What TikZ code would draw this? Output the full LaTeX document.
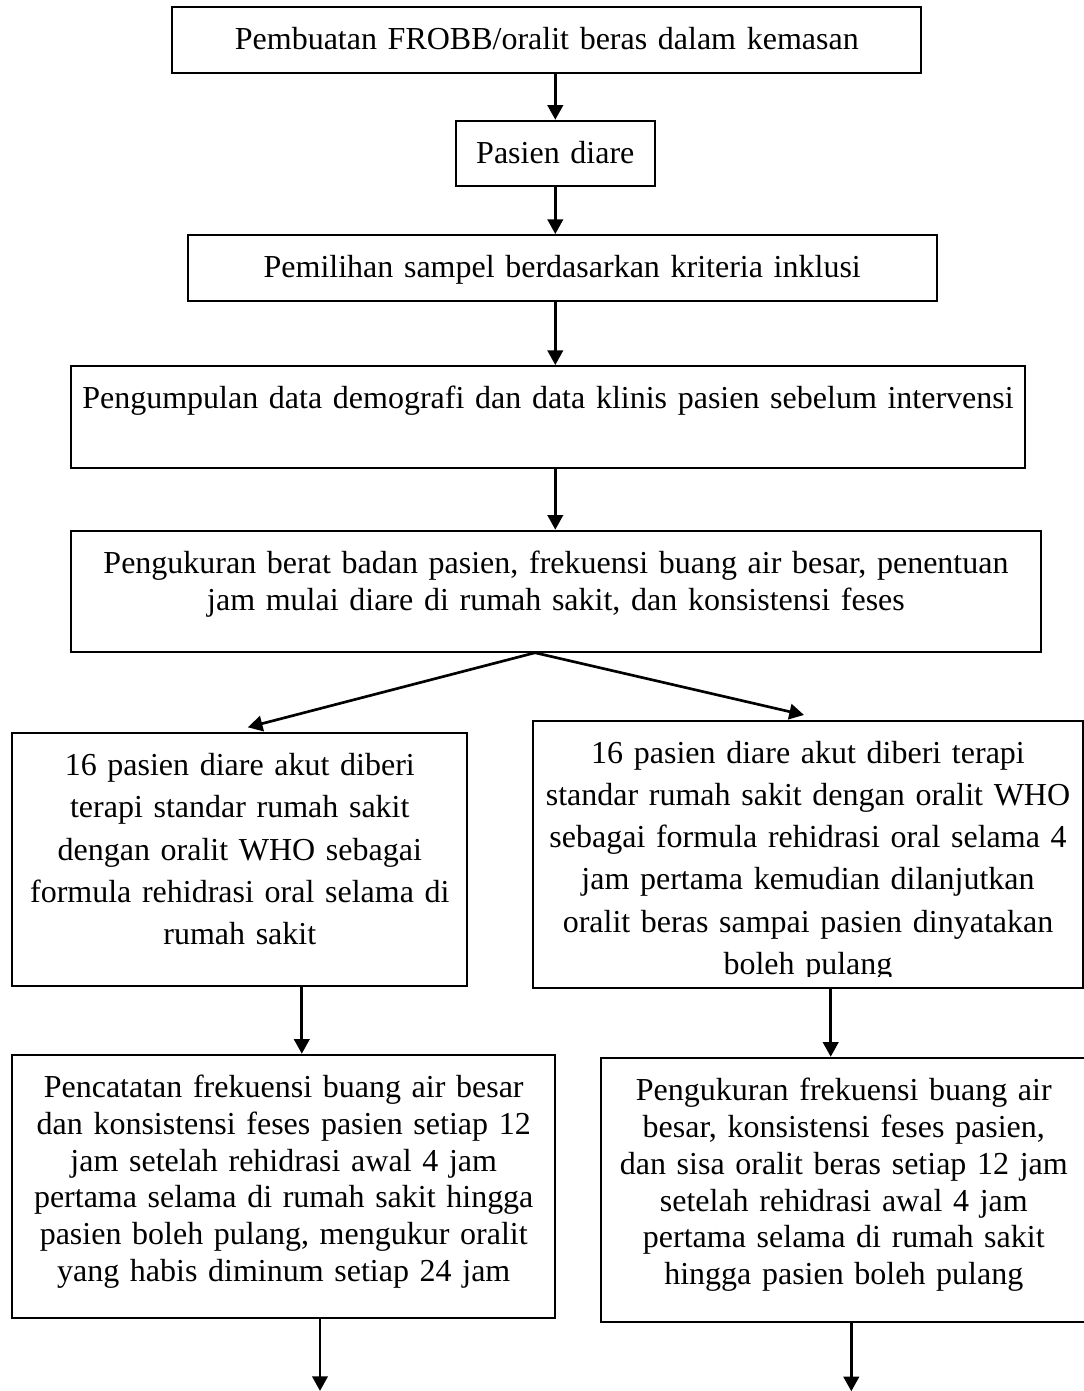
\documentclass[tikz,border=0pt]{standalone}
\usepackage{fontspec}
\setmainfont{Liberation Serif}
\usepackage{tikz}
\usetikzlibrary{positioning,arrows.meta,calc}

\tikzset{
  box/.style={draw, line width=0.75pt, inner sep=0pt},
  txt/.style={align=center, inner sep=0pt, font=\fontsize{12}{#1}\selectfont},
  txt/.default=13.8pt,
  arr/.style={line width=1pt, -{Triangle[length=5.5pt,width=5.8pt]}}
}

\begin{document}
\begin{tikzpicture}[x=0.375pt, y=-0.375pt]
\useasboundingbox (0,0) rectangle (1084,1391);

%boxes
\node (frobb)   [box, minimum width=280.9pt, minimum height=24.75pt] at (546.8,40.3) {};
\node (pasien)  [box, minimum width=74.4pt,  minimum height=24.5pt]  at (555.3,153.4) {};
\node (sampel)  [box, minimum width=280.9pt, minimum height=24.75pt] at (562.2,268) {};
\node (data)    [box, minimum width=358pt,   minimum height=38.4pt]  at (548,417.2) {};
\node (ukur)    [box, minimum width=364pt,   minimum height=45.4pt]  at (556,591.2) {};
\node (terapiL) [box, minimum width=170.6pt, minimum height=94.65pt] at (239.8,859.5) {};
\node (terapiR) [box, minimum width=206.25pt,minimum height=100pt]   at (808,854.3) {};
\node (catatL)  [box, minimum width=203.5pt, minimum height=98.7pt]  at (283.7,1186.3) {};
\node (ukurR)   [box, minimum width=182.4pt, minimum height=99.2pt]  at (843.8,1190) {};

%texts
\node (frobbT)  [txt, text width=273pt, below=7.8pt of frobb.north] {Pembuatan FROBB/oralit beras dalam kemasan};
\node (pasienT) [txt, text width=70pt, below=7.8pt of pasien.north] {Pasien diare};
\node (sampelT) [txt, text width=273pt, below=7.8pt of sampel.north] {Pemilihan sampel berdasarkan kriteria inklusi};
\node (dataT)   [txt, text width=350pt, below=7.8pt of data.north] {Pengumpulan data demografi dan data klinis pasien sebelum intervensi};
\node (ukurT)   [txt=14pt, text width=352pt, below=7.8pt of ukur.north] {Pengukuran berat badan pasien, frekuensi buang air besar, penentuan\\
  jam mulai diare di rumah sakit, dan konsistensi feses};
\node (terapiLT) [txt=15.8pt, text width=163pt, below=7.8pt of terapiL.north] {16 pasien diare akut diberi\\
  terapi standar rumah sakit\\
  dengan oralit WHO sebagai\\
  formula rehidrasi oral selama di\\
  rumah sakit};
\begin{scope}
\clip (terapiR.north west) rectangle ([yshift=4.5pt]terapiR.south east);
\node (terapiRT) [txt=15.8pt, text width=199pt, below=7.8pt of terapiR.north] {16 pasien diare akut diberi terapi\\
  standar rumah sakit dengan oralit WHO\\
  sebagai formula rehidrasi oral selama 4\\
  jam pertama kemudian dilanjutkan\\
  oralit beras sampai pasien dinyatakan\\
  boleh pulang};
\end{scope}
\node (catatLT) [txt, text width=196pt, below=7.8pt of catatL.north] {Pencatatan frekuensi buang air besar\\
  dan konsistensi feses pasien setiap 12\\
  jam setelah rehidrasi awal 4 jam\\
  pertama selama di rumah sakit hingga\\
  pasien boleh pulang, mengukur oralit\\
  yang habis diminum setiap 24 jam};
\node (ukurRT) [txt, text width=175pt, below=7.8pt of ukurR.north] {Pengukuran frekuensi buang air\\
  besar, konsistensi feses pasien,\\
  dan sisa oralit beras setiap 12 jam\\
  setelah rehidrasi awal 4 jam\\
  pertama selama di rumah sakit\\
  hingga pasien boleh pulang};

%points
\coordinate (split) at ($(ukur.south)+(-21,0)$);
\coordinate (tipL)  at ($(terapiL.north)+(8,-5)$);
\coordinate (tipR)  at ($(terapiR.north)+(-4,-5)$);
\coordinate (downL) at ($(terapiL.south)+(62,0)$);
\coordinate (downR) at ($(terapiR.south)+(22.7,0)$);
\coordinate (endL)  at ($(catatL.south)+(36.3,72)$);
\coordinate (endR)  at ($(ukurR.south)+(7.5,68)$);

%links
\draw[arr] (frobb.south -| pasien.north) -- (pasien.north);
\draw[arr] (pasien.south) -- (pasien.south |- sampel.north);
\draw[arr] (sampel.south -| pasien.south) -- (data.north -| pasien.south);
\draw[arr] (data.south -| pasien.south) -- (ukur.north -| pasien.south);
\draw[arr] (split) -- (tipL);
\draw[arr] (split) -- (tipR);
\draw[arr] (downL) -- (downL |- catatL.north);
\draw[arr] (downR) -- (downR |- ukurR.north);
\draw[arr] (catatL.south -| endL) -- (endL);
\draw[arr] (ukurR.south -| endR) -- (endR);
\end{tikzpicture}
\end{document}
